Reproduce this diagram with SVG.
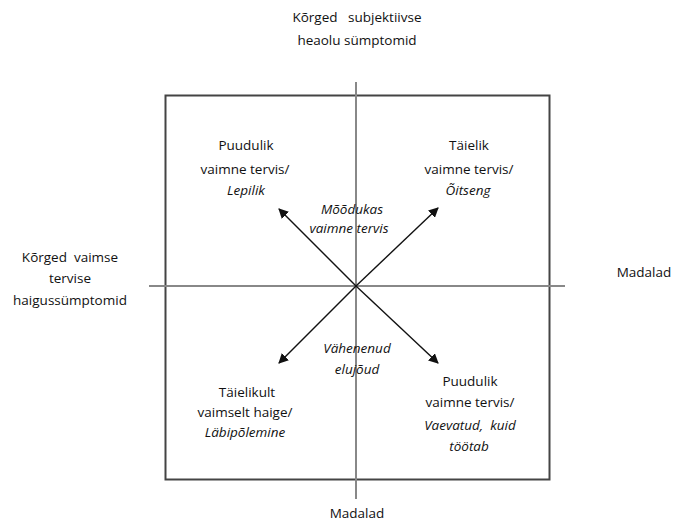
<svg xmlns="http://www.w3.org/2000/svg" width="676" height="524" viewBox="0 0 676 524">
<style>
text{font-family:"Open Sans","Liberation Sans",Arial,sans-serif;font-size:13.5px;fill:#111;text-anchor:middle;white-space:pre}
.i{font-style:italic}
.box{fill:none;stroke:#444;stroke-width:2}
.axis{stroke:#888;stroke-width:2}
.arr{stroke:#111;stroke-width:1.4;fill:none;marker-end:url(#ah)}
</style>
<defs>
<marker id="ah" viewBox="0 0 10 10" refX="9" refY="5" markerWidth="10" markerHeight="10" markerUnits="userSpaceOnUse" orient="auto">
<path d="M0,0 L10,5 L0,10 z" fill="#111"/>
</marker>
</defs>
<rect x="0" y="0" width="676" height="524" fill="#fff"/>
<g id="frame"><rect class="box" x="165.5" y="95.5" width="384" height="384"/></g>
<g id="connectors">
<line class="axis" x1="356" y1="82" x2="356" y2="499"/>
<line class="axis" x1="149" y1="286" x2="565" y2="286"/>
<line class="arr" x1="356" y1="286" x2="279" y2="209"/>
<line class="arr" x1="356" y1="286" x2="438" y2="208"/>
<line class="arr" x1="356" y1="286" x2="279" y2="363"/>
<line class="arr" x1="356" y1="286" x2="438" y2="363"/>
</g>
<g id="top-label"><text x="357" y="22" xml:space="preserve">Kõrged   subjektiivse</text><text x="357" y="45">heaolu sümptomid</text></g>
<g id="left-label"><text x="70" y="262" xml:space="preserve">Kõrged  vaimse</text><text x="70" y="283">tervise</text><text x="70" y="305">haigussümptomid</text></g>
<g id="right-label"><text x="644" y="277">Madalad</text></g>
<g id="bottom-label"><text x="357" y="518">Madalad</text></g>
<g id="q-top-left"><text x="246" y="150">Puudulik</text><text x="245" y="174">vaimne tervis/</text><text x="246" y="195" class="i">Lepilik</text></g>
<g id="q-top-right"><text x="469" y="150">Täielik</text><text x="469" y="174">vaimne tervis/</text><text x="468" y="195" class="i">Õitseng</text></g>
<g id="center-top"><text x="352" y="214" class="i">Mõõdukas</text><text x="349" y="233" class="i">vaimne tervis</text></g>
<g id="center-bottom"><text x="357" y="353" class="i">Vähenenud</text><text x="357" y="374" class="i">elujõud</text></g>
<g id="q-bottom-left"><text x="247" y="397">Täielikult</text><text x="245" y="417">vaimselt haige/</text><text x="245" y="437" class="i">Läbipõlemine</text></g>
<g id="q-bottom-right"><text x="470" y="386">Puudulik</text><text x="470" y="407">vaimne tervis/</text><text x="470" y="430" class="i" xml:space="preserve">Vaevatud,  kuid</text><text x="469" y="451" class="i">töötab</text></g>
</svg>
